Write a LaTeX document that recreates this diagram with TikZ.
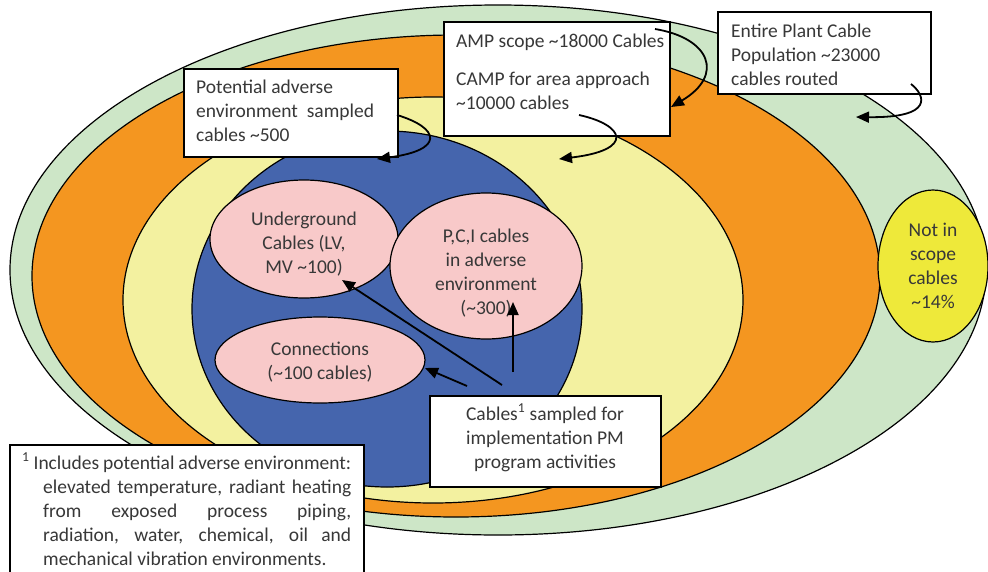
\documentclass[tikz,border=0pt]{standalone}
\usepackage{fontspec}
\setmainfont{Carlito}
\usetikzlibrary{shapes.geometric, arrows.meta}

\definecolor{plantgreen}{RGB}{205,230,199}
\definecolor{amporange}{RGB}{244,150,32}
\definecolor{campyellow}{RGB}{243,241,160}
\definecolor{pmblue}{RGB}{69,101,173}
\definecolor{setpink}{RGB}{248,201,201}
\definecolor{outyellow}{RGB}{238,233,58}
\definecolor{txtgray}{RGB}{56,56,56}

\tikzset{
    region/.style={draw=black, line width=1.2pt},
    pinkset/.style={ellipse, draw=black, line width=1.2pt, fill=setpink, align=center, inner sep=0pt, text=txtgray},
    labelbox/.style={rectangle, draw=black, fill=white, line width=1.5pt, inner sep=0pt},
    boxtext/.style={text=txtgray, inner sep=0pt},
    pointer/.style={-{Triangle[length=13pt,width=11pt]}, line width=1.8pt},
}

\begin{document}
\begin{tikzpicture}[x=1pt, y=-1pt, font=\fontsize{19.5}{24}\selectfont]
    \useasboundingbox (0,0) rectangle (988,571);
    % nested populations
    \draw[region, fill=plantgreen] (498,270) ellipse [x radius=488pt, y radius=265pt];
    \draw[region, fill=amporange] (456,276) ellipse [x radius=424pt, y radius=241pt];
    \draw[region, fill=campyellow] (433,300) ellipse [x radius=310pt, y radius=203pt];
    \draw[region, fill=pmblue] (387,309) ellipse [x radius=195pt, y radius=178pt];

    \node[pinkset, minimum width=188pt, minimum height=118pt] (underground) at (304,239) {};
    \node[boxtext, align=center] (ugtext) at (304,244) {Underground\\Cables (LV,\\MV \textasciitilde100)};
    \node[pinkset, minimum width=192pt, minimum height=146pt] (pci) at (486,266) {};
    \node[boxtext, align=center] (pcitext) at (486,273) {P,C,I cables\\in adverse\\environment\\(\textasciitilde300)};
    \node[pinkset, minimum width=210pt, minimum height=86pt] (connections) at (320,360) {};
    \node[boxtext, align=center] (context) at (320,362) {Connections\\(\textasciitilde100 cables)};
    \node[pinkset, fill=outyellow, minimum width=110pt, minimum height=152pt] (notscope) at (933,266)
        {Not in\\scope\\cables\\\textasciitilde14\%};

    % callout boxes (text placed by its last baseline)
    \node[labelbox, minimum width=214pt, minimum height=88pt] (potbox) at (291,113) {};
    \node[boxtext, anchor=base west, align=left] (pottext) at (196,141)
        {Potential adverse\\environment\ \ sampled\\cables \textasciitilde500};
    \node[labelbox, minimum width=226pt, minimum height=114pt] (ampbox) at (557,79) {};
    \node[boxtext, anchor=base west, align=left] (amptext) at (456,109)
        {AMP scope \textasciitilde18000 Cables\\[14pt]CAMP for area approach\\\textasciitilde10000 cables};
    \node[labelbox, minimum width=213pt, minimum height=82pt] (plantbox) at (824.5,53) {};
    \node[boxtext, anchor=base west, align=left] (planttext) at (731,85)
        {Entire Plant Cable\\Population \textasciitilde23000\\cables routed};
    \node[labelbox, minimum width=231pt, minimum height=91pt] (samplebox) at (545.5,441.5) {};
    \node[boxtext, anchor=base, align=center] (sampletext) at (545,468)
        {Cables\textsuperscript{1} sampled for\\implementation PM\\program activities};
    \node[labelbox, anchor=north west, minimum width=354pt, minimum height=170pt] (notebox) at (9,444) {};
    \node[boxtext, anchor=base west, text width=308pt, align=justify] (notetext) at (43,469)
        {\hspace*{-21pt}\textsuperscript{1} Includes potential adverse environment:
        \linebreak elevated temperature, radiant heating \linebreak from exposed process piping,
        \linebreak radiation, water, chemical, oil and \linebreak mechanical vibration environments.};

    % curved pointers into the rings
    \coordinate (potfrom) at (397,115);
    \coordinate (potto) at (377,159);
    \coordinate (ampfrom) at (655,29);
    \coordinate (ampto) at (671,107);
    \coordinate (campfrom) at (579,115);
    \coordinate (campto) at (559,159);
    \coordinate (plantfrom) at (911,84);
    \coordinate (plantto) at (856,117);
    \draw[pointer] (potfrom) .. controls (440,128) and (445,150) .. (potto);
    \draw[pointer] (ampfrom) .. controls (710,38) and (725,75) .. (ampto);
    \draw[pointer] (campfrom) .. controls (625,125) and (635,150) .. (campto);
    \draw[pointer] (plantfrom) .. controls (925,95) and (935,118) .. (plantto);

    % sampled cables
    \coordinate (s1) at (513,372);
    \coordinate (s2) at (502,385);
    \coordinate (s3) at (467,386);
    \coordinate (pcitip) at (513,302);
    \coordinate (ugtip) at (342,280);
    \coordinate (contip) at (425,368);
    \draw[pointer] (s1) -- (pcitip);
    \draw[pointer] (s2) -- (ugtip);
    \draw[pointer] (s3) -- (contip);
\end{tikzpicture}
\end{document}
